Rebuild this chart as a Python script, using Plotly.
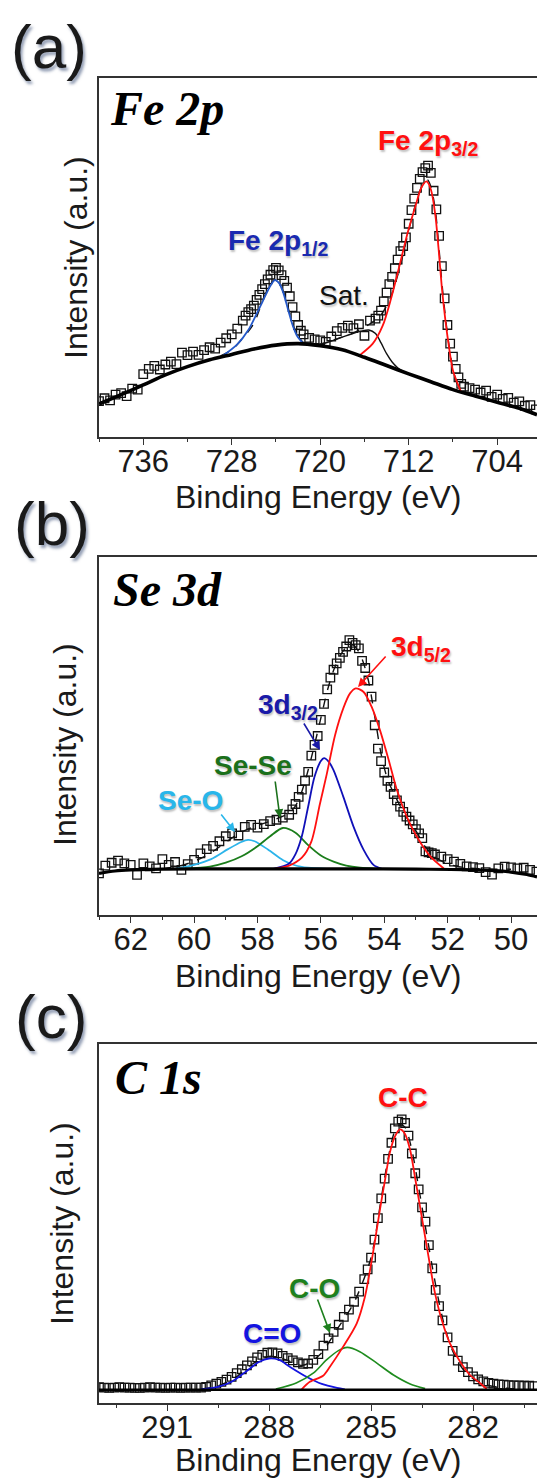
import plotly.graph_objects as go

# ---------------- data (binding energy eV, intensity a.u.) ----------------
# Panel (a) Fe 2p
fe_data = [(740.0, 10.0), (739.5, 10.8), (739.0, 10.2), (738.5, 11.8), (738.0, 12.2), (737.5, 11.4),
           (737.0, 13.5), (736.5, 13.2), (736.0, 17.5), (735.5, 19.0), (735.0, 19.8), (734.5, 18.8),
           (734.0, 20.2), (733.5, 21.0), (733.0, 20.3), (732.5, 23.5), (732.0, 22.8), (731.5, 23.8),
           (731.0, 22.9), (730.5, 24.2), (730.0, 25.0), (729.5, 24.6), (729.0, 26.3), (728.5, 27.5),
           (728.0, 28.6), (727.5, 30.2), (727.0, 32.4), (726.75, 33.8), (726.5, 34.8), (726.25, 35.6),
           (726.0, 36.6), (725.75, 38.2), (725.5, 39.6), (725.25, 41.2), (725.0, 42.6), (724.75, 43.9),
           (724.5, 45.2), (724.25, 46.5), (724.0, 47.1), (723.75, 46.4), (723.5, 45.1), (723.25, 43.5),
           (723.0, 41.6), (722.75, 39.2), (722.5, 36.2), (722.25, 33.6), (722.0, 31.2), (721.75, 29.6),
           (721.5, 28.6), (721.0, 27.6), (720.5, 27.2), (720.0, 26.9), (719.5, 26.5), (719.0, 28.0),
           (718.5, 29.5), (718.0, 30.4), (717.5, 31.0), (717.0, 30.3), (716.5, 31.4), (716.0, 28.2),
           (715.5, 32.4), (715.0, 33.0), (714.75, 33.8), (714.5, 35.2), (714.25, 37.8), (714.0, 40.2),
           (713.75, 42.6), (713.5, 44.6), (713.25, 47.0), (713.0, 49.4), (712.75, 51.8), (712.5, 53.2),
           (712.25, 55.6), (712.0, 59.4), (711.75, 63.2), (711.5, 66.4), (711.25, 69.4), (711.0, 71.9),
           (710.75, 73.8), (710.5, 74.9), (710.25, 75.6), (710.0, 73.6), (709.75, 68.6), (709.5, 63.4),
           (709.25, 56.0), (709.0, 47.6), (708.75, 38.6), (708.5, 31.2), (708.25, 26.0), (708.0, 22.4),
           (707.75, 19.0), (707.5, 16.6), (707.25, 14.8), (707.0, 14.0), (706.5, 13.6), (706.0, 13.2),
           (705.5, 12.4), (705.0, 12.9), (704.5, 11.2), (704.0, 11.8), (703.5, 10.6), (703.0, 10.9),
           (702.5, 9.6), (702.0, 9.9), (701.5, 8.7), (701.0, 8.9), (700.5, 7.7)]
fe_background = [(740.0, 9.2), (738.0, 11.8), (736.0, 14.5), (734.0, 17.3), (732.0, 19.6), (730.0, 21.5),
                 (728.0, 23.0), (726.0, 24.5), (724.0, 25.6), (722.0, 26.0), (720.0, 25.4), (718.0, 24.3),
                 (716.0, 22.2), (714.0, 19.9), (712.0, 17.6), (710.0, 15.4), (708.0, 13.2), (706.0, 11.4),
                 (704.0, 9.7), (702.0, 8.0), (700.4, 6.2)]
fe_2p12 = [(728.9, 22.4), (727.5, 25.8), (726.5, 29.8), (725.8, 34.0), (725.2, 37.8), (724.6, 41.6),
           (724.1, 43.7), (723.7, 42.8), (723.3, 39.8), (722.9, 35.4), (722.5, 31.2), (722.1, 28.2),
           (721.5, 25.9)]
fe_sat = [(721.0, 25.8), (720.0, 25.8), (719.0, 26.7), (718.0, 27.8), (717.0, 28.9), (716.3, 29.5),
          (715.6, 29.8), (715.0, 28.8), (714.5, 26.2), (714.0, 23.2), (713.5, 20.9), (713.0, 19.3),
          (712.5, 18.2)]
fe_2p32 = [(716.5, 22.6), (715.25, 26.0), (714.35, 31.0), (713.6, 38.5), (712.85, 47.5), (712.1, 56.8),
           (711.4, 64.2), (710.85, 69.5), (710.4, 71.2), (710.0, 69.0), (709.6, 62.0), (709.3, 52.5),
           (709.0, 41.5), (708.7, 33.0), (708.4, 26.0), (708.0, 18.5), (707.3, 12.8)]
fe_envelope = [(729.0, 22.6), (728.0, 24.3), (727.0, 27.5), (726.0, 31.6), (725.2, 38.0), (724.6, 42.0),
               (724.1, 43.8), (723.6, 42.3), (723.1, 38.5), (722.6, 32.5), (722.1, 28.5), (721.5, 26.3),
               (721.0, 25.9), (720.0, 25.9), (719.0, 26.8), (718.0, 27.9), (717.0, 29.0), (716.5, 29.8),
               (716.0, 30.7), (715.5, 31.5), (715.0, 32.6), (714.5, 34.0), (714.0, 36.5), (713.5, 40.0),
               (713.0, 45.0), (712.5, 51.0), (712.0, 57.5), (711.5, 63.5), (711.0, 68.5), (710.5, 71.3),
               (710.3, 71.6), (710.0, 69.8), (709.6, 63.5), (709.3, 54.0), (709.0, 43.0), (708.7, 34.0),
               (708.4, 26.5), (708.0, 19.0), (707.5, 14.0), (707.0, 12.6), (706.0, 11.4)]

# Panel (b) Se 3d
se_data = [(63.0, 11.6), (62.8, 13.8), (62.6, 14.6), (62.4, 15.2), (62.2, 14.4), (62.0, 14.0), (61.8, 11.2),
           (61.6, 14.4), (61.4, 13.6), (61.2, 13.0), (61.0, 15.6), (60.8, 14.0), (60.6, 14.8), (60.4, 12.6),
           (60.2, 14.2), (60.0, 15.4), (59.8, 17.2), (59.6, 18.4), (59.4, 19.3), (59.2, 20.6), (59.0, 22.0),
           (58.8, 22.8), (58.6, 22.2), (58.4, 24.6), (58.2, 25.2), (58.0, 24.4), (57.8, 25.4), (57.6, 26.2),
           (57.4, 26.6), (57.2, 27.2), (57.0, 28.0), (56.9, 29.5), (56.8, 31.0), (56.7, 33.0), (56.6, 35.0),
           (56.5, 37.5), (56.4, 40.0), (56.3, 44.5), (56.2, 47.5), (56.1, 50.0), (56.0, 54.5), (55.9, 59.0),
           (55.8, 63.0), (55.7, 66.3), (55.6, 68.5), (55.5, 70.3), (55.4, 71.8), (55.3, 73.5), (55.2, 75.0),
           (55.1, 76.8), (55.0, 76.0), (54.9, 75.4), (54.8, 74.5), (54.7, 71.0), (54.6, 69.0), (54.5, 65.5),
           (54.4, 61.0), (54.3, 53.0), (54.2, 46.5), (54.1, 43.0), (54.0, 39.8), (53.9, 37.5), (53.8, 35.8),
           (53.7, 33.8), (53.6, 32.0), (53.5, 30.3), (53.4, 28.8), (53.3, 27.5), (53.2, 26.4), (53.1, 25.3),
           (53.0, 24.0), (52.9, 22.8), (52.8, 21.5), (52.7, 17.8), (52.6, 17.5), (52.5, 17.3), (52.4, 16.9),
           (52.2, 16.3), (52.0, 15.6), (51.8, 14.9), (51.6, 14.3), (51.4, 13.6), (51.2, 13.4), (51.0, 13.1),
           (50.8, 12.0), (50.6, 11.3), (50.4, 13.0), (50.2, 13.5), (50.0, 13.3), (49.8, 13.0), (49.6, 13.2),
           (49.4, 12.6), (49.2, 12.1)]
se_background = [(63.0, 11.6), (62.5, 12.3), (62.0, 12.6), (61.0, 12.8), (59.0, 12.9), (57.0, 12.9),
                 (55.0, 12.9), (53.0, 12.8), (51.5, 12.7), (50.5, 12.4), (50.0, 12.0), (49.5, 11.3),
                 (49.18, 10.6)]
se_o = [(60.6, 12.9), (60.0, 14.0), (59.46, 15.6), (58.93, 18.4), (58.51, 20.4), (58.3, 21.0), (58.09, 20.6),
        (57.67, 18.3), (57.19, 15.3), (56.82, 13.9), (56.4, 13.2), (55.8, 12.9)]
se_se = [(60.3, 12.9), (59.5, 13.5), (59.0, 14.6), (58.5, 16.4), (58.0, 19.2), (57.6, 22.0), (57.2, 24.3),
         (56.8, 23.0), (56.4, 19.5), (56.0, 16.6), (55.6, 14.9), (55.2, 13.8), (54.76, 13.2), (54.23, 12.9)]
se_3d32 = [(57.5, 12.9), (57.0, 14.4), (56.8, 17.0), (56.6, 22.0), (56.4, 30.3), (56.2, 38.6), (56.0, 43.0),
           (55.9, 43.8), (55.75, 42.8), (55.6, 40.5), (55.29, 33.0), (54.97, 24.7), (54.65, 18.2),
           (54.34, 14.0), (54.07, 12.9)]
se_3d52 = [(57.45, 12.9), (57.0, 13.8), (56.6, 16.0), (56.3, 20.5), (56.03, 31.0), (55.81, 39.5),
           (55.55, 50.3), (55.29, 57.8), (55.08, 61.9), (54.9, 63.3), (54.65, 62.3), (54.39, 58.0),
           (54.13, 51.5), (53.86, 43.3), (53.6, 34.9), (53.28, 27.3), (52.96, 21.7), (52.54, 16.3),
           (52.12, 13.0)]
se_envelope = [(61.0, 12.9), (60.5, 13.6), (60.0, 15.0), (59.5, 17.2), (59.0, 20.3), (58.5, 23.2),
               (58.0, 25.0), (57.5, 26.5), (57.0, 28.5), (56.8, 30.5), (56.6, 34.5), (56.4, 40.5),
               (56.2, 47.5), (56.0, 55.0), (55.8, 62.5), (55.6, 68.3), (55.4, 72.3), (55.2, 74.8),
               (55.05, 75.5), (54.9, 74.8), (54.7, 71.5), (54.5, 65.5), (54.3, 55.5), (54.1, 45.0),
               (53.9, 38.0), (53.7, 34.0), (53.5, 30.5), (53.3, 27.3), (53.0, 23.5), (52.7, 19.0),
               (52.4, 16.2), (52.0, 14.3), (51.5, 13.3), (51.0, 12.9), (50.0, 12.8)]

# Panel (c) C 1s
c_data = [(293.0, 4.4), (292.85, 4.3), (292.7, 4.2), (292.55, 4.3), (292.4, 4.4), (292.25, 4.3),
          (292.1, 4.3), (291.95, 4.2), (291.8, 4.2), (291.65, 4.3), (291.5, 4.4), (291.35, 4.3),
          (291.2, 4.3), (291.05, 4.2), (290.9, 4.3), (290.75, 4.3), (290.6, 4.2), (290.45, 4.3),
          (290.3, 4.3), (290.15, 4.3),
          (290.0, 4.3), (289.85, 4.5), (289.7, 4.9), (289.55, 5.4),
          (289.4, 5.9), (289.25, 6.5), (289.1, 7.3), (288.95, 8.3), (288.8, 9.4), (288.65, 10.5),
          (288.5, 11.6), (288.35, 12.7), (288.2, 13.4), (288.05, 14.0), (287.9, 14.1), (287.75, 13.8),
          (287.6, 13.1), (287.45, 12.5), (287.3, 11.9), (287.15, 11.3), (287.0, 10.9), (286.85, 11.0),
          (286.7, 12.0), (286.55, 13.6), (286.4, 16.0), (286.25, 18.0), (286.1, 19.8), (285.95, 21.8),
          (285.8, 24.0), (285.65, 26.0), (285.5, 28.2), (285.35, 31.0), (285.2, 34.5), (285.1, 37.2),
          (285.0, 40.5), (284.9, 45.5), (284.8, 51.5), (284.7, 57.0), (284.6, 62.5), (284.5, 68.0),
          (284.4, 72.5), (284.3, 76.5), (284.2, 78.4), (284.1, 79.0), (284.0, 78.0), (283.9, 74.5),
          (283.8, 69.5), (283.7, 64.0), (283.6, 59.5), (283.5, 54.5), (283.4, 50.5), (283.3, 44.0),
          (283.2, 37.5), (283.1, 31.5), (283.0, 27.0), (282.9, 23.0), (282.75, 18.3), (282.6, 14.5),
          (282.45, 11.8), (282.3, 10.0), (282.15, 8.6), (282.0, 7.4), (281.85, 6.6), (281.7, 6.0),
          (281.55, 5.6), (281.4, 5.4), (281.25, 5.2), (281.1, 5.1), (280.95, 5.0), (280.8, 4.9),
          (280.65, 4.9), (280.5, 4.8), (280.35, 4.8), (280.2, 4.7)]
c_background = [(293.0, 3.7), (280.12, 3.7)]
c_co_double = [(290.0, 3.8), (289.5, 4.5), (289.1, 5.9), (288.7, 8.6), (288.3, 11.4), (288.0, 12.4),
               (287.7, 12.0), (287.39, 10.1), (286.9, 7.3), (286.45, 5.3), (286.0, 4.2), (285.77, 3.8)]
c_co_single = [(287.8, 3.9), (287.2, 5.6), (286.7, 8.3), (286.31, 12.0), (285.96, 14.6), (285.7, 15.5),
               (285.33, 14.3), (284.83, 11.1), (284.34, 7.8), (283.85, 5.3), (283.41, 4.0)]
c_cc = [(287.04, 3.8), (286.8, 5.9), (286.41, 7.6), (286.21, 10.1), (285.82, 15.7), (285.42, 22.2),
        (285.18, 29.6), (285.03, 37.0), (284.88, 45.4), (284.74, 53.8), (284.59, 62.1), (284.45, 69.6),
        (284.3, 74.2), (284.15, 76.2), (284.01, 75.1), (283.85, 70.5), (283.71, 63.0), (283.56, 54.7),
        (283.41, 46.3), (283.26, 38.0), (283.12, 30.6), (282.92, 23.1), (282.68, 16.6), (282.38, 11.5),
        (282.09, 7.8), (281.79, 5.5), (281.6, 3.9)]
c_envelope = [(290.0, 3.9), (289.5, 4.8), (289.0, 7.0), (288.5, 10.8), (288.0, 13.0), (287.5, 12.0),
              (287.0, 10.5), (286.5, 13.5), (286.0, 20.5), (285.5, 28.0), (285.0, 40.5), (284.7, 57.0),
              (284.5, 68.0), (284.3, 75.8), (284.15, 77.5), (284.0, 76.8), (283.8, 70.5), (283.6, 60.0),
              (283.4, 49.0), (283.2, 38.0), (283.0, 28.0), (282.8, 20.0), (282.6, 14.5), (282.4, 10.8),
              (282.2, 8.3), (282.0, 6.8), (281.7, 5.4), (281.4, 4.6), (281.0, 4.1), (280.5, 3.9)]

# axis ranges / ticks
x_ranges = {'a': [740.0, 700.4], 'b': [63.0, 49.18], 'c': [293.0, 280.12]}
x_ticks = {'a': (704, 8, 4), 'b': (50, 2, 1), 'c': (282, 3, 1.5)}

# ---------------- layout geometry ----------------
W, H = 537, 1479
ML, MR, MT, MB = 99, 0, 78, 76
PW = W - ML - MR
PH = H - MT - MB


def pxx(x):
    return (x - ML) / PW


def pxy(y):
    return (H - MB - y) / PH


panel_px = {'a': (78, 437), 'b': (557, 915), 'c': (1044, 1403)}
axis_ids = {'a': ('x', 'y'), 'b': ('x2', 'y2'), 'c': ('x3', 'y3')}

SANS = "Liberation Sans, Arial, sans-serif"
SERIF = "Liberation Serif, Times New Roman, serif"

fig = go.Figure()


def unzip(pts):
    return [p[0] for p in pts], [p[1] for p in pts]


def add_line(panel, pts, color, width, dash='solid', shape='spline'):
    xa, ya = axis_ids[panel]
    xs, ys = unzip(pts)
    fig.add_trace(go.Scatter(x=xs, y=ys, mode='lines', xaxis=xa, yaxis=ya,
                             line=dict(color=color, width=width, dash=dash, shape=shape, smoothing=0.8),
                             showlegend=False, hoverinfo='skip'))


def add_points(panel, pts):
    xa, ya = axis_ids[panel]
    xs, ys = unzip(pts)
    fig.add_trace(go.Scatter(x=xs, y=ys, mode='markers', xaxis=xa, yaxis=ya,
                             marker=dict(symbol='square-open', size=8.5, color='#111',
                                         line=dict(width=1.3, color='#111')),
                             showlegend=False, hoverinfo='skip'))


# panel (a)
add_points('a', fe_data)
add_line('a', fe_envelope, '#111', 1.4, dash='dash')
add_line('a', fe_2p12, '#2458c8', 1.8)
add_line('a', fe_sat, '#111', 1.4)
add_line('a', fe_2p32, '#ff1010', 1.8)
add_line('a', fe_background, '#000', 3.6)

# panel (b)
add_points('b', se_data)
add_line('b', se_envelope, '#111', 1.4, dash='dash')
add_line('b', se_o, '#2cb4ea', 1.8)
add_line('b', se_se, '#1b7d1b', 1.8)
add_line('b', se_3d32, '#1010b8', 1.8)
add_line('b', se_3d52, '#ff1010', 1.8)
add_line('b', se_background, '#000', 3.2)

# panel (c)
add_points('c', c_data)
add_line('c', c_envelope, '#111', 1.4, dash='dash')
add_line('c', c_co_double, '#1414e0', 1.8)
add_line('c', c_co_single, '#1e8c1e', 1.6)
add_line('c', c_cc, '#ff1010', 1.8)
add_line('c', c_background, '#000', 2.4, shape='linear')

layout = dict(width=W, height=H, margin=dict(l=ML, r=MR, t=MT, b=MB, pad=0),
              paper_bgcolor='white', plot_bgcolor='white', showlegend=False)

for i, p in enumerate(['a', 'b', 'c']):
    sfx = '' if i == 0 else str(i + 1)
    top, bot = panel_px[p]
    t0, dt, mdt = x_ticks[p]
    layout['xaxis' + sfx] = dict(
        domain=[0, 1], anchor='y' + sfx, range=x_ranges[p],
        showline=True, linecolor='#333', linewidth=1.5, mirror=True,
        ticks='outside', ticklen=6, tickwidth=1.2, tickcolor='#333',
        tick0=t0, dtick=dt, ticklabelstandoff=-10,
        minor=dict(ticks='outside', ticklen=3.5, tickwidth=1.2, tickcolor='#333', tick0=t0, dtick=mdt),
        showgrid=False, zeroline=False,
        tickfont=dict(family=SANS, size=31, color='#1a1a1a'))
    layout['yaxis' + sfx] = dict(
        domain=[pxy(bot), pxy(top)], anchor='x' + sfx, range=[0, 100],
        showline=True, linecolor='#333', linewidth=1.5, mirror=False,
        ticks='', showticklabels=False, showgrid=False, zeroline=False)

fig.update_layout(**layout)

ann = []


def text(x, y, s, size, color='#111', family=SANS, xanchor='center', angle=0, weight='normal',
         style='normal', shadow='none'):
    ann.append(dict(x=pxx(x), y=pxy(y), xref='paper', yref='paper', text=s, showarrow=False,
                    xanchor=xanchor, yanchor='middle', textangle=angle,
                    font=dict(family=family, size=size, color=color, weight=weight, style=style,
                              shadow=shadow)))


def arrow(tail, head, color):
    ann.append(dict(x=pxx(head[0]), y=pxy(head[1]), xref='paper', yref='paper', text='',
                    showarrow=True, ax=tail[0] - head[0], ay=tail[1] - head[1],
                    arrowhead=2, arrowsize=1.1, arrowwidth=1.6, arrowcolor=color))


PSH = '2px 3px 3px rgba(60,80,120,0.55)'
LSH = '1px 2px 2px rgba(0,0,0,0.25)'

# panel letters
text(49, 46, '(a)', 62, '#1a1a1a', shadow=PSH)
text(52, 523, '(b)', 62, '#1a1a1a', shadow=PSH)
text(51, 1016, '(c)', 62, '#1a1a1a', shadow=PSH)

# element titles
text(108, 109, 'Fe 2p', 48, '#000', family=SERIF, xanchor='left', weight='bold', style='italic')
text(111, 589, 'Se 3d', 48, '#000', family=SERIF, xanchor='left', weight='bold', style='italic')
text(113, 1077, 'C 1s', 48, '#000', family=SERIF, xanchor='left', weight='bold', style='italic')

# axis titles
for yy in (497, 976, 1460):
    text(318, yy, 'Binding Energy (eV)', 32, '#1a1a1a')
text(76, 258, 'Intensity (a.u.)', 32, '#1a1a1a', angle=-90)
text(65, 745, 'Intensity (a.u.)', 32, '#1a1a1a', angle=-90)
text(62, 1224, 'Intensity (a.u.)', 32, '#1a1a1a', angle=-90)

# peak labels
text(376, 142, 'Fe 2p<sub>3/2</sub>', 28, '#ff1010', xanchor='left', weight='bold', shadow=LSH)
text(226, 242, 'Fe 2p<sub>1/2</sub>', 28, '#1a2ab0', xanchor='left', weight='bold', shadow=LSH)
text(317, 295, 'Sat.', 28, '#111', xanchor='left', shadow=LSH)

text(389, 648, '3d<sub>5/2</sub>', 28, '#ff1010', xanchor='left', weight='bold', shadow=LSH)
text(256, 706, '3d<sub>3/2</sub>', 28, '#1a1aa8', xanchor='left', weight='bold', shadow=LSH)
text(212, 765, 'Se-Se', 28, '#1b701b', xanchor='left', weight='bold', shadow=LSH)
text(156, 800, 'Se-O', 28, '#29b6ea', xanchor='left', weight='bold', shadow=LSH)
arrow((387, 655), (358, 687), '#ff1010')
arrow((303, 722), (320, 750), '#1a1aa8')
arrow((275, 780), (280, 818), '#1b701b')
arrow((220, 813), (235, 832), '#29b6ea')

text(376, 1097, 'C-C', 28, '#ff1010', xanchor='left', weight='bold', shadow=LSH)
text(287, 1288, 'C-O', 28, '#1e801e', xanchor='left', weight='bold', shadow=LSH)
text(241, 1333, 'C=O', 28, '#1414e0', xanchor='left', weight='bold', shadow=LSH)
arrow((317, 1298), (330, 1333), '#1e801e')

fig.update_layout(annotations=ann)
fig.write_html("out.html")
